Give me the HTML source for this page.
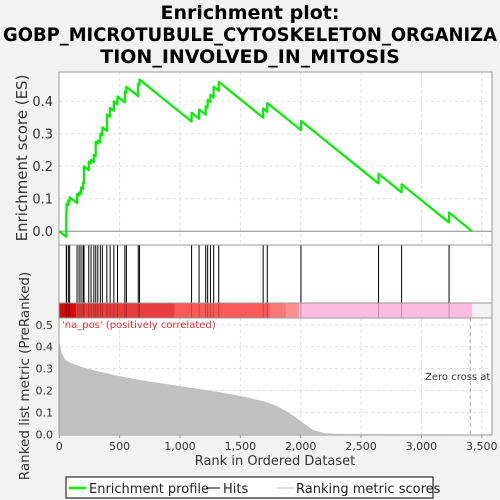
<!DOCTYPE html>
<html><head><meta charset="utf-8"><style>
body{margin:0;background:#f2f2f2;}
svg{display:block;font-family:"DejaVu Sans","Liberation Sans",sans-serif;}
</style></head><body>
<svg id="chart" width="500" height="500" viewBox="0 0 500 500">
<rect x="0" y="0" width="500" height="500" fill="#f2f2f2"/>
<g font-weight="bold" font-size="19" text-anchor="middle" fill="#000">
<text x="250" y="19">Enrichment plot:</text>
<text x="250" y="41" textLength="494" lengthAdjust="spacingAndGlyphs">GOBP_MICROTUBULE_CYTOSKELETON_ORGANIZA</text>
<text x="250" y="63">TION_INVOLVED_IN_MITOSIS</text>
</g>
<rect x="59" y="72" width="433" height="173" fill="#fff"/>
<rect x="59" y="245" width="433" height="58" fill="#fff"/>
<rect x="59" y="318" width="433" height="117" fill="#fff"/>
<g id="grid"></g>
<g id="bar"></g>
<g id="marks"></g>
<rect x="59" y="72" width="433" height="173" fill="none" stroke="#999"/>
<rect x="59" y="245" width="433" height="58" fill="none" stroke="#999"/>
<rect x="59" y="303" width="433" height="15" fill="none" stroke="#999"/>
<rect x="59" y="318" width="433" height="117" fill="none" stroke="#999"/>
<g id="axes" font-size="13" fill="#333"></g>
<text x="27" y="158" transform="rotate(-90 27 158)" text-anchor="middle" font-size="15" fill="#333">Enrichment score (ES)</text>
<text x="29" y="376" transform="rotate(-90 29 376)" text-anchor="middle" font-size="13.5" fill="#333">Ranked list metric (PreRanked)</text>
<text x="275" y="465" text-anchor="middle" font-size="13" fill="#333">Rank in Ordered Dataset</text>
<text x="62" y="328" font-size="10" fill="#e03030">'na_pos' (positively correlated)</text>
<text x="425" y="380" font-size="10" fill="#333">Zero cross at</text>
<g>
<rect x="66" y="477" width="367" height="21" fill="#fff" stroke="#000"/>
<line x1="69" y1="488" x2="86" y2="488" stroke="#00ee00" stroke-width="2.5"/>
<text x="89" y="493" font-size="13" fill="#222">Enrichment profile</text>
<line x1="206" y1="488" x2="220" y2="488" stroke="#000"/>
<text x="223" y="493" font-size="13" fill="#222">Hits</text>
<line x1="277" y1="488" x2="293" y2="488" stroke="#bbb"/>
<text x="296" y="493" font-size="13" fill="#222">Ranking metric scores</text>
</g>
</svg>
<script>
const hitRanks=[58,60,75,86,147,164,180,197,205,244,263,286,302,319,340,357,394,421,452,482,543,556,654,665,1096,1158,1213,1229,1252,1279,1321,1689,1723,2002,2645,2836,3229];
const esAfterHit=[0.06,0.085,0.095,0.105,0.115,0.12,0.135,0.15,0.2,0.215,0.22,0.235,0.275,0.28,0.3,0.32,0.36,0.38,0.4,0.415,0.43,0.445,0.455,0.467,0.365,0.375,0.385,0.405,0.42,0.445,0.46,0.378,0.395,0.34,0.177,0.145,0.058];
const metricRanks=[0,20,50,100,200,300,500,700,1000,1300,1500,1700,1800,1900,2000,2100,2200,2300,3420];
const metricValues=[0.42,0.37,0.34,0.325,0.305,0.29,0.265,0.245,0.22,0.195,0.175,0.15,0.13,0.1,0.06,0.02,0.005,0.002,0];
const xTicks=[0,500,1000,1500,2000,2500,3000,3500];
const xTickLabels=["0","500","1,000","1,500","2,000","2,500","3,000","3,500"];
const esTicks=[0,0.1,0.2,0.3,0.4];
const metricTicks=[0,0.1,0.2,0.3,0.4,0.5];
const totalRanks=3420, zeroCross=3405;
const NS="http://www.w3.org/2000/svg";
const X=r=>59.3+r*0.1207;
const YE=v=>231.3-v*325;
const YM=v=>434.3-v*219;
function mk(p,t,a){const e=document.createElementNS(NS,t);for(const k in a)e.setAttribute(k,a[k]);document.getElementById(p).appendChild(e);return e;}
xTicks.forEach(t=>{if(t===0)return;[[72,245],[318,435]].forEach(([a,b])=>{const l=mk('grid','line',{x1:X(t),x2:X(t),y1:a,y2:b,stroke:'#ddd','stroke-dasharray':'3,3'});

});});
esTicks.forEach(t=>{const l=mk('grid','line',{x1:59,x2:492,y1:YE(t),y2:YE(t),stroke:t===0?'#888':'#ddd','stroke-dasharray':t===0?'':'3,3'});

});
metricTicks.forEach(t=>{if(t===0)return;const l=mk('grid','line',{x1:59,x2:492,y1:YM(t),y2:YM(t),stroke:'#ddd','stroke-dasharray':'3,3'});

});
const segs=[[0,140,'#d40c0c'],[140,955,'#ea3e3e'],[955,1745,'#fb5a5a'],[1745,1880,'#fd7878'],[1880,1985,'#fe8f8f'],[1985,3420,'#fdbde0']];
segs.forEach(s=>{const r=mk('bar','rect',{x:X(s[0]),y:303,width:X(s[1])-X(s[0]),height:15,fill:s[2]});

});
let d='M'+X(0)+','+YM(0);
metricRanks.forEach((r,i)=>{d+=' L'+X(r)+','+YM(metricValues[i]);});
d+=' L'+X(totalRanks)+','+YM(0)+'Z';
const area=mk('marks','path',{d:d,fill:'#c0c0c0'});


const zc=mk('marks','line',{x1:X(zeroCross),x2:X(zeroCross),y1:318,y2:435,stroke:'#aaa','stroke-dasharray':'4,3'});


hitRanks.forEach(r=>{const l=mk('marks','line',{x1:X(r),x2:X(r),y1:245,y2:303,stroke:'#000','stroke-width':1});


const l2=mk('marks','line',{x1:X(r),x2:X(r),y1:303,y2:318,stroke:'rgba(0,0,0,0.25)'});

});
const slope=0.0003;
let pts=[[0,0]],prevR=0,prevV=0;
hitRanks.forEach((r,i)=>{const before=prevV-slope*(r-prevR);pts.push([r,before]);pts.push([r,esAfterHit[i]]);prevR=r;prevV=esAfterHit[i];});
pts.push([totalRanks,0]);
const es=mk('marks','polyline',{points:pts.map(p=>X(p[0])+','+YE(p[1])).join(' '),fill:'none',stroke:'#00ee00','stroke-width':2.2,'stroke-linejoin':'round'});


esTicks.forEach(t=>{const tx=mk('axes','text',{x:53,y:YE(t)+4.5,'text-anchor':'end'});tx.textContent=t.toFixed(1);

});
metricTicks.forEach(t=>{const tx=mk('axes','text',{x:53,y:YM(t)+4,'text-anchor':'end','font-size':11});tx.textContent=t.toFixed(1);

});
xTicks.forEach((t,i)=>{const tx=mk('axes','text',{x:X(t),y:450,'text-anchor':'middle','font-size':11});tx.textContent=xTickLabels[i];


const tk=mk('axes','line',{x1:X(t),x2:X(t),y1:435,y2:438,stroke:'#999'});

});
</script>
</body></html>
